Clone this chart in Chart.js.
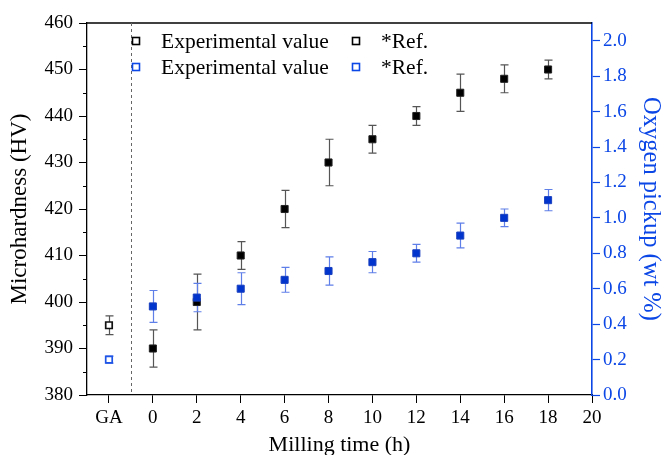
<!DOCTYPE html>
<html>
<head>
<meta charset="utf-8">
<script src="https://cdn.jsdelivr.net/npm/chart.js@4.4.1/dist/chart.umd.min.js"></script>
<style>
  html, body { margin: 0; padding: 0; background: #ffffff; }
  #wrap { width: 662px; height: 455px; }
</style>
</head>
<body>
<div id="wrap"><canvas id="c" width="662" height="455"></canvas></div>
<script>
// Milling times (h) of the ball-milled powders
const millingTimes = [0, 2, 4, 6, 8, 10, 12, 14, 16, 18];
// Microhardness (HV) of the milled powders and its scatter
const hardness    = [390, 400, 410, 420, 430, 435, 440, 445, 448, 450];
const hardnessErr = [4, 6, 3, 4, 5, 3, 2, 4, 3, 2];
// Oxygen pickup (wt %) of the milled powders and its scatter
const oxygen    = [0.50, 0.55, 0.60, 0.65, 0.70, 0.75, 0.80, 0.90, 1.00, 1.10];
const oxygenErr = [0.09, 0.08, 0.09, 0.07, 0.08, 0.06, 0.05, 0.07, 0.05, 0.06];
// Reference values of the gas-atomised (GA) powder
const refHardness    = [395];
const refHardnessErr = [2];
const refOxygen      = [0.20];
const refOxygenErr   = [0.02];
// The GA sample sits left of the milling-time scale, behind a separator
const gaX = [-2];
const separatorX = -1;
// Tick values and labels
const xTicks      = [-2, 0, 2, 4, 6, 8, 10, 12, 14, 16, 18, 20];
const xTickLabels = ['GA', '0', '2', '4', '6', '8', '10', '12', '14', '16', '18', '20'];
const hvTicks     = [380, 390, 400, 410, 420, 430, 440, 450, 460];
const oxTicks     = [0, 0.2, 0.4, 0.6, 0.8, 1.0, 1.2, 1.4, 1.6, 1.8, 2.0];
// Legend entries, one row per axis
const legendLabels = ['Experimental value', '*Ref.'];

const FONT = "'Liberation Serif', 'Times New Roman', serif";
const BLACK = '#000000';
const BLUE = '#0b46e6';
const BLUE_FILL = '#0034cc';

const toPoints = (xs, ys, es) => xs.map((x, i) => ({ x: x, y: ys[i], err: es[i] }));

// Vertical error bars with caps, drawn under the markers
const errorBars = {
  id: 'errorBars',
  beforeDatasetsDraw(chart) {
    const ctx = chart.ctx;
    chart.data.datasets.forEach((ds, i) => {
      const meta = chart.getDatasetMeta(i);
      const xs = chart.scales[meta.xAxisID];
      const ys = chart.scales[meta.yAxisID];
      ctx.save();
      ctx.strokeStyle = ds.errorColor;
      ctx.lineWidth = 1.2;
      ds.data.forEach(p => {
        const px = Math.round(xs.getPixelForValue(p.x)) + 0.5;
        const top = ys.getPixelForValue(p.y + p.err);
        const bot = ys.getPixelForValue(p.y - p.err);
        ctx.beginPath();
        ctx.moveTo(px, top); ctx.lineTo(px, bot);
        ctx.moveTo(px - 4, top); ctx.lineTo(px + 4, top);
        ctx.moveTo(px - 4, bot); ctx.lineTo(px + 4, bot);
        ctx.stroke();
      });
      ctx.restore();
    });
  }
};

// Frame top, GA separator, minor ticks and the in-plot legend
const decorations = {
  id: 'decorations',
  beforeDatasetsDraw(chart) {
    const ctx = chart.ctx;
    const a = chart.chartArea;
    const x = chart.scales.x;
    const y = chart.scales.y;
    ctx.save();
    // top frame line
    ctx.strokeStyle = BLACK;
    ctx.lineWidth = 1.3;
    ctx.beginPath();
    ctx.moveTo(a.left, a.top); ctx.lineTo(a.right, a.top);
    ctx.stroke();
    // separator between GA and milled samples
    const sx = Math.round(x.getPixelForValue(separatorX)) + 0.5;
    ctx.strokeStyle = '#666666';
    ctx.lineWidth = 1;
    ctx.setLineDash([3, 3]);
    ctx.beginPath();
    ctx.moveTo(sx, a.top); ctx.lineTo(sx, a.bottom);
    ctx.stroke();
    ctx.setLineDash([]);
    // minor ticks on the hardness axis
    ctx.strokeStyle = BLACK;
    ctx.lineWidth = 1;
    for (let i = 0; i < hvTicks.length - 1; i++) {
      const v = (hvTicks[i] + hvTicks[i + 1]) / 2;
      const py = Math.round(y.getPixelForValue(v)) + 0.5;
      ctx.beginPath();
      ctx.moveTo(a.left, py); ctx.lineTo(a.left - 4, py);
      ctx.stroke();
    }
    ctx.restore();
  },
  afterDraw(chart) {
    const ctx = chart.ctx;
    const rows = [BLACK, BLUE];
    const colX = [136, 356];
    const rowY = [41, 67];
    ctx.save();
    ctx.font = '21.5px ' + FONT;
    ctx.textBaseline = 'middle';
    ctx.textAlign = 'left';
    rows.forEach((col, r) => {
      legendLabels.forEach((lab, c) => {
        ctx.strokeStyle = col;
        ctx.lineWidth = 1.6;
        ctx.strokeRect(colX[c] - 3.5, rowY[r] - 3.5, 7, 7);
        ctx.fillStyle = BLACK;
        ctx.fillText(lab, colX[c] + 25, rowY[r] + 1);
      });
    });
    ctx.restore();
  }
};

const tickFont = { family: FONT, size: 19 };

new Chart(document.getElementById('c'), {
  type: 'scatter',
  data: {
    datasets: [
      {
        label: legendLabels[0],
        data: toPoints(millingTimes, hardness, hardnessErr),
        yAxisID: 'y',
        order: 1,
        pointStyle: 'rect',
        pointRadius: 5,
        backgroundColor: BLACK,
        borderColor: '#222222',
        borderWidth: 1,
        errorColor: '#555555'
      },
      {
        label: legendLabels[1],
        data: toPoints(gaX, refHardness, refHardnessErr),
        yAxisID: 'y',
        order: 1,
        pointStyle: 'rect',
        pointRadius: 4.6,
        backgroundColor: 'rgba(255,255,255,1)',
        borderColor: '#111111',
        borderWidth: 1.7,
        errorColor: '#555555'
      },
      {
        label: legendLabels[0],
        data: toPoints(millingTimes, oxygen, oxygenErr),
        yAxisID: 'y1',
        order: 0,
        pointStyle: 'rect',
        pointRadius: 5,
        backgroundColor: BLUE_FILL,
        borderColor: '#1a40c0',
        borderWidth: 1,
        errorColor: '#5f7fe8'
      },
      {
        label: legendLabels[1],
        data: toPoints(gaX, refOxygen, refOxygenErr),
        yAxisID: 'y1',
        order: 0,
        pointStyle: 'rect',
        pointRadius: 4.6,
        backgroundColor: 'rgba(255,255,255,1)',
        borderColor: '#1e55e6',
        borderWidth: 1.7,
        errorColor: '#5f7fe8'
      }
    ]
  },
  options: {
    responsive: false,
    animation: false,
    layout: { padding: { top: 23, left: 0, right: 0, bottom: 0 } },
    plugins: { legend: { display: false }, tooltip: { enabled: false } },
    scales: {
      x: {
        type: 'linear',
        min: -3,
        max: 20,
        afterBuildTicks: s => { s.ticks = xTicks.map(v => ({ value: v })); },
        afterFit: s => { s.height = 60; },
        ticks: {
          autoSkip: false,
          maxRotation: 0,
          color: BLACK,
          font: tickFont,
          padding: 4,
          callback: v => xTickLabels[xTicks.indexOf(v)]
        },
        grid: { drawOnChartArea: false, drawTicks: true, tickLength: 8, tickColor: BLACK, tickWidth: 1 },
        border: { display: true, color: BLACK, width: 1.3 },
        title: { display: true, text: 'Milling time (h)', color: BLACK, font: { family: FONT, size: 22, lineHeight: 1 }, padding: { top: 0, bottom: -1 } }
      },
      y: {
        position: 'left',
        min: 380,
        max: 460,
        afterBuildTicks: s => { s.ticks = hvTicks.map(v => ({ value: v })); },
        afterFit: s => { s.width = 87; },
        ticks: { color: BLACK, font: tickFont, padding: 6 },
        grid: { drawOnChartArea: false, drawTicks: true, tickLength: 8, tickColor: BLACK, tickWidth: 1 },
        border: { display: true, color: BLACK, width: 1.3 },
        title: { display: true, text: 'Microhardness (HV)', color: BLACK, font: { family: FONT, size: 23, lineHeight: 1 }, padding: { top: 8.5, bottom: 0 } }
      },
      y1: {
        position: 'right',
        min: 0,
        max: 2.1,
        afterBuildTicks: s => { s.ticks = oxTicks.map(v => ({ value: v })); },
        afterFit: s => { s.width = 70; },
        ticks: { color: BLUE, font: tickFont, padding: 3, callback: v => v.toFixed(1) },
        grid: { drawOnChartArea: false, drawTicks: true, tickLength: 8, tickColor: BLUE, tickWidth: 1.2 },
        border: { display: true, color: BLUE, width: 1.6 },
        title: { display: true, text: 'Oxygen pickup (wt %)', color: BLUE, font: { family: FONT, size: 24.5, lineHeight: 1 }, padding: { top: -1, bottom: 0 } }
      }
    }
  },
  plugins: [errorBars, decorations]
});
</script>
</body>
</html>
